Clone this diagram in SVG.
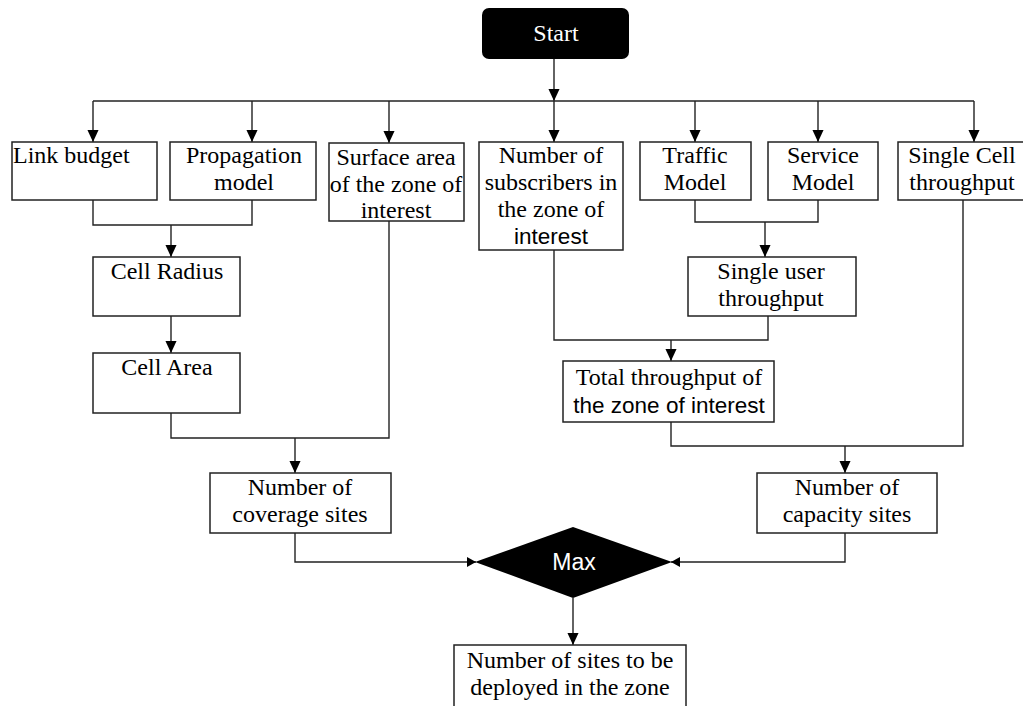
<svg xmlns="http://www.w3.org/2000/svg" width="1023" height="706" viewBox="0 0 1023 706">
<style>
.box{fill:#fff;stroke:#222;stroke-width:1.5}
.t{font-family:"Liberation Serif","Times New Roman",serif;font-size:24px;fill:#000;text-anchor:middle}
.s{font-family:"Liberation Sans",Arial,sans-serif;font-size:22.5px;fill:#000;text-anchor:middle}
.w{fill:#fff}
.c{fill:none;stroke:#222;stroke-width:1.4}
</style>
<defs>
<marker id="a" markerUnits="userSpaceOnUse" markerWidth="12" markerHeight="13" viewBox="0 0 13 12" refX="13" refY="6" orient="auto">
<path d="M0,0 L13,6 L0,12 z" fill="#000"/>
</marker>
<marker id="b" markerUnits="userSpaceOnUse" markerWidth="9" markerHeight="10" viewBox="0 0 9 10" refX="9" refY="5" orient="auto">
<path d="M0,0 L9,5 L0,10 z" fill="#000"/>
</marker>
</defs>
<rect width="1023" height="706" fill="#fff"/>
<g id="connectors" class="c">
<path d="M554,59 V101" marker-end="url(#a)"/>
<path d="M93,101 H974"/>
<path d="M93,101 V142" marker-end="url(#a)"/>
<path d="M252,101 V142" marker-end="url(#a)"/>
<path d="M389,101 V143" marker-end="url(#a)"/>
<path d="M554,101 V142" marker-end="url(#a)"/>
<path d="M695,101 V142" marker-end="url(#a)"/>
<path d="M818,101 V142" marker-end="url(#a)"/>
<path d="M974,101 V142" marker-end="url(#a)"/>
<path d="M93,200 V225 H252 V200"/>
<path d="M171,225 V257" marker-end="url(#a)"/>
<path d="M171,316 V353" marker-end="url(#a)"/>
<path d="M171,413 V438 H389 V221"/>
<path d="M295,438 V473" marker-end="url(#a)"/>
<path d="M695,200 V222 H818 V200"/>
<path d="M765,222 V257" marker-end="url(#a)"/>
<path d="M554,250 V340 H768 V316"/>
<path d="M671,340 V361" marker-end="url(#a)"/>
<path d="M671,422 V446 H963 V200"/>
<path d="M845,446 V473" marker-end="url(#a)"/>
<path d="M295,533 V562 H476" marker-end="url(#b)"/>
<path d="M845,533 V562 H671" marker-end="url(#b)"/>
<path d="M573,598 V645" marker-end="url(#a)"/>
</g>
<g id="start">
<rect x="482" y="8" width="147" height="51" rx="7" fill="#000"/>
<text class="t w" x="556" y="41">Start</text>
</g>
<g id="link-budget">
<rect class="box" x="12" y="142" width="145" height="58"/>
<text class="t" x="13" y="163" style="text-anchor:start">Link budget</text>
</g>
<g id="propagation">
<rect class="box" x="170" y="142" width="146" height="58"/>
<text class="t" x="244" y="163">Propagation</text>
<text class="t" x="244" y="190">model</text>
</g>
<g id="surface">
<rect class="box" x="329" y="143" width="135" height="78"/>
<text class="t" x="396" y="165">Surface area</text>
<text class="t" x="396" y="192">of the zone of</text>
<text class="t" x="396" y="218">interest</text>
</g>
<g id="subscribers">
<rect class="box" x="479" y="142" width="144" height="108"/>
<text class="t" x="551" y="163">Number of</text>
<text class="t" x="551" y="190">subscribers in</text>
<text class="t" x="551" y="217">the zone of</text>
<text class="s" x="551" y="244">interest</text>
</g>
<g id="traffic">
<rect class="box" x="640" y="142" width="111" height="58"/>
<text class="t" x="695" y="163">Traffic</text>
<text class="t" x="695" y="190">Model</text>
</g>
<g id="service">
<rect class="box" x="768" y="142" width="110" height="58"/>
<text class="t" x="823" y="163">Service</text>
<text class="t" x="823" y="190">Model</text>
</g>
<g id="single-cell">
<rect class="box" x="898" y="142" width="130" height="58"/>
<text class="t" x="962" y="163">Single Cell</text>
<text class="t" x="962" y="190">throughput</text>
</g>
<g id="cell-radius">
<rect class="box" x="93" y="257" width="147" height="59"/>
<text class="t" x="167" y="279">Cell Radius</text>
</g>
<g id="cell-area">
<rect class="box" x="93" y="353" width="147" height="60"/>
<text class="t" x="167" y="375">Cell Area</text>
</g>
<g id="single-user">
<rect class="box" x="688" y="257" width="168" height="59"/>
<text class="t" x="771" y="279">Single user</text>
<text class="t" x="771" y="306">throughput</text>
</g>
<g id="total">
<rect class="box" x="563" y="361" width="211" height="61"/>
<text class="t" x="669" y="385">Total throughput of</text>
<text class="s" x="669" y="413">the zone of interest</text>
</g>
<g id="coverage">
<rect class="box" x="210" y="473" width="181" height="60"/>
<text class="t" x="300" y="495">Number of</text>
<text class="t" x="300" y="522">coverage sites</text>
</g>
<g id="capacity">
<rect class="box" x="757" y="473" width="180" height="60"/>
<text class="t" x="847" y="495">Number of</text>
<text class="t" x="847" y="522">capacity sites</text>
</g>
<g id="max">
<path d="M475,562 L573,527 L672,562 L573,598 z" fill="#000"/>
<text class="s w" x="574" y="570" style="font-size:23px">Max</text>
</g>
<g id="final">
<rect class="box" x="454" y="645" width="232" height="70"/>
<text class="t" x="570" y="668">Number of sites to be</text>
<text class="t" x="570" y="695">deployed in the zone</text>
</g>
</svg>
